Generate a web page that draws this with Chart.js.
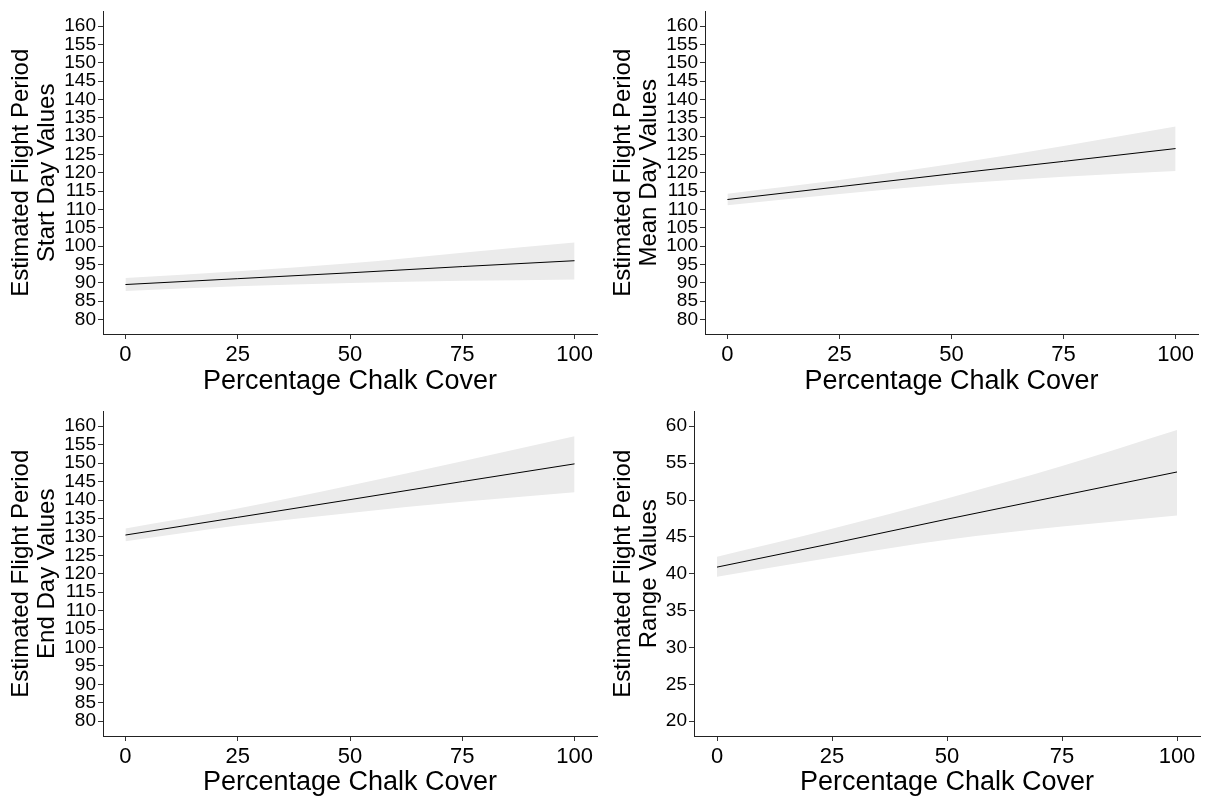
<!DOCTYPE html>
<html>
<head>
<meta charset="utf-8">
<script src="https://cdn.jsdelivr.net/npm/chart.js@4"></script>
<style>
  html, body { margin: 0; padding: 0; background: #fff; }
  body { width: 1208px; height: 801px; position: relative; overflow: hidden; }
  .panel { position: absolute; }
</style>
</head>
<body>
<div class="panel" style="left:0;top:0;width:602px;height:400px"><canvas id="startChart"></canvas></div>
<div class="panel" style="left:602px;top:0;width:606px;height:400px"><canvas id="meanChart"></canvas></div>
<div class="panel" style="left:0;top:400px;width:602px;height:401px"><canvas id="endChart"></canvas></div>
<div class="panel" style="left:602px;top:400px;width:606px;height:401px"><canvas id="rangeChart"></canvas></div>
<script>
// Fitted values and confidence band
const chalkCover = [0, 25, 50, 75, 100];

const startFit = [89.5, 91.1, 92.7, 94.4, 96.0];
const startLower = [87.7, 89.0, 89.9, 90.5, 90.9];
const startUpper = [91.3, 93.1, 95.3, 98.2, 101.0];

const meanFit = [112.7, 116.2, 119.7, 123.1, 126.6];
const meanLower = [111.1, 114.2, 116.9, 118.9, 120.5];
const meanUpper = [114.3, 118.0, 122.4, 127.3, 132.6];

const endFit = [130.5, 135.3, 140.1, 145.0, 149.8];
const endLower = [128.8, 133.1, 136.5, 139.5, 142.1];
const endUpper = [132.3, 137.7, 143.9, 150.5, 157.3];

const rangeFit = [40.9, 44.1, 47.4, 50.6, 53.8];
const rangeLower = [39.6, 42.2, 44.6, 46.4, 47.9];
const rangeUpper = [42.3, 46.1, 50.2, 54.6, 59.5];

// Tick labels
const xTicks = [0, 25, 50, 75, 100];
const dayTicks = [80, 85, 90, 95, 100, 105, 110, 115, 120, 125, 130, 135, 140, 145, 150, 155, 160];
const rangeTicks = [20, 25, 30, 35, 40, 45, 50, 55, 60];

const xTitle = "Percentage Chalk Cover";

Chart.defaults.font.family = "Arial, 'Liberation Sans', sans-serif";
Chart.defaults.color = "#000";

function toPoints(values) {
  return chalkCover.map((x, i) => ({ x: x, y: values[i] }));
}

// Build one ggplot-style panel
function makePanel(id, fit, lower, upper, yTicks, yMin, yMax, yTitle, axisWidth, xAxisHeight, topPad, rightPad) {
  const ctx = document.getElementById(id).getContext("2d");
  new Chart(ctx, {
    type: "line",
    data: {
      datasets: [
        {
          // fitted line, drawn on top of the band
          data: toPoints(fit),
          borderColor: "#000",
          borderWidth: 1,
          pointRadius: 0,
          fill: false,
          order: 0,
        },
        {
          data: toPoints(upper),
          borderWidth: 0,
          pointRadius: 0,
          backgroundColor: "#EBEBEB",
          fill: "+1",
          cubicInterpolationMode: "monotone",
          order: 1,
        },
        {
          data: toPoints(lower),
          borderWidth: 0,
          pointRadius: 0,
          fill: false,
          cubicInterpolationMode: "monotone",
          order: 2,
        },
      ],
    },
    options: {
      responsive: true,
      maintainAspectRatio: false,
      animation: false,
      layout: { padding: { top: topPad, right: rightPad, left: 0, bottom: 0 } },
      plugins: { legend: { display: false }, tooltip: { enabled: false } },
      scales: {
        x: {
          type: "linear",
          min: -5,
          max: 105,
          afterBuildTicks: (scale) => {
            scale.ticks = xTicks.map((v) => ({ value: v }));
          },
          afterFit: (scale) => {
            scale.height = xAxisHeight;
          },
          ticks: { font: { size: 22 }, color: "#000", padding: 3, maxRotation: 0, autoSkip: false },
          grid: { drawOnChartArea: false, drawTicks: true, tickLength: 5, color: "#333" },
          border: { display: true, color: "#222", width: 1 },
          title: { display: true, text: xTitle, font: { size: 27 }, color: "#000", padding: { top: 0, bottom: 2 } },
        },
        y: {
          type: "linear",
          min: yMin,
          max: yMax,
          afterBuildTicks: (scale) => {
            scale.ticks = yTicks.map((v) => ({ value: v }));
          },
          afterFit: (scale) => {
            scale.width = axisWidth;
          },
          ticks: { font: { size: 19, lineHeight: 1 }, color: "#000", padding: 2, autoSkip: false },
          grid: { drawOnChartArea: false, drawTicks: true, tickLength: 5, color: "#333" },
          border: { display: true, color: "#222", width: 1 },
          title: {
            display: true,
            text: ["Estimated Flight Period", yTitle],
            font: { size: 24, lineHeight: 1.09 },
            color: "#000",
            padding: { top: 8, bottom: 0 },
          },
        },
      },
    },
  });
}

makePanel("startChart", startFit, startLower, startUpper, dayTicks, 76, 164, "Start Day Values", 103, 66, 8, 5);
makePanel("meanChart", meanFit, meanLower, meanUpper, dayTicks, 76, 164, "Mean Day Values", 103, 66, 8, 10);
makePanel("endChart", endFit, endLower, endUpper, dayTicks, 76, 164, "End Day Values", 103, 65, 10, 5);
makePanel("rangeChart", rangeFit, rangeLower, rangeUpper, rangeTicks, 18, 62, "Range Values", 92, 65, 10, 8);
</script>
</body>
</html>
